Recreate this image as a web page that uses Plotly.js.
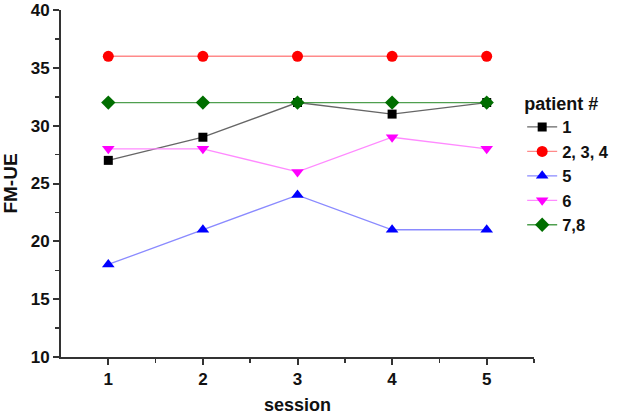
<!DOCTYPE html>
<html>
<head>
<meta charset="utf-8">
<script src="https://cdn.plot.ly/plotly-3.0.1.min.js"></script>
<style>html,body{margin:0;padding:0;background:#fff;}#chart{width:625px;height:415px;}</style>
</head>
<body>
<div id="chart"></div>
<script>
const sessions = [1, 2, 3, 4, 5];
const seriesNames = ["1", "2, 3, 4", "5", "6", "7,8"];
const p1 = [27, 29, 32, 31, 32];
const p234 = [36, 36, 36, 36, 36];
const p5 = [18, 21, 24, 21, 21];
const p6 = [28, 28, 26, 29, 28];
const p78 = [32, 32, 32, 32, 32];

const values = [p1, p234, p5, p6, p78];
const lineColors = ["#666666", "#ff8a8a", "#8a8aff", "#ff8aff", "#4f9f4f"];
const markerColors = ["#000000", "#ff0000", "#0000ff", "#ff00ff", "#006e00"];
const symbols = ["square", "circle", "triangle-up", "triangle-down", "diamond"];
const sizes = [9, 11, 11, 11, 11];

const traces = values.map((v, i) => ({
  x: sessions, y: v, name: seriesNames[i], type: "scatter", mode: "lines+markers",
  line: {color: lineColors[i], width: 1.3},
  marker: {color: markerColors[i], symbol: symbols[i], size: sizes[i]}
}));

const axisCommon = {
  showgrid: false, zeroline: false, showline: true, linecolor: "#333", linewidth: 2,
  ticks: "outside", ticklen: 6, tickwidth: 2, tickcolor: "#333",
  tickfont: {family: "Arial", size: 17, color: "#111", weight: "bold"}
};

const layout = {
  width: 625, height: 415,
  margin: {l: 61, r: 91, t: 10, b: 58, autoexpand: false},
  paper_bgcolor: "#fff", plot_bgcolor: "#fff",
  showlegend: true,
  legend: {
    x: 0.975, y: 0.78, xanchor: "left", yanchor: "top",
    title: {text: "patient #", font: {family: "Arial", size: 18, color: "#111", weight: "bold"}},
    font: {family: "Arial", size: 16.5, color: "#111", weight: "bold"},
    tracegroupgap: 0, itemwidth: 30
  },
  xaxis: Object.assign({}, axisCommon, {
    range: [0.5, 5.5], tickvals: sessions, ticktext: sessions.map(String),
    minor: {ticks: "outside", ticklen: 4, tickwidth: 1.5, tickcolor: "#333", tickvals: [1.5, 2.5, 3.5, 4.5, 5.5]},
    title: {text: "session", font: {family: "Arial", size: 18, color: "#111", weight: "bold"}, standoff: 10}
  }),
  yaxis: Object.assign({}, axisCommon, {
    range: [10, 40], tickvals: [10, 15, 20, 25, 30, 35, 40],
    minor: {ticks: "outside", ticklen: 4, tickwidth: 1.5, tickcolor: "#333", tickvals: [12.5, 17.5, 22.5, 27.5, 32.5, 37.5]},
    title: {text: "FM-UE", font: {family: "Arial", size: 19, color: "#111", weight: "bold"}, standoff: 12}
  })
};

Plotly.newPlot("chart", traces, layout, {displayModeBar: false, staticPlot: true});
</script>
</body>
</html>
